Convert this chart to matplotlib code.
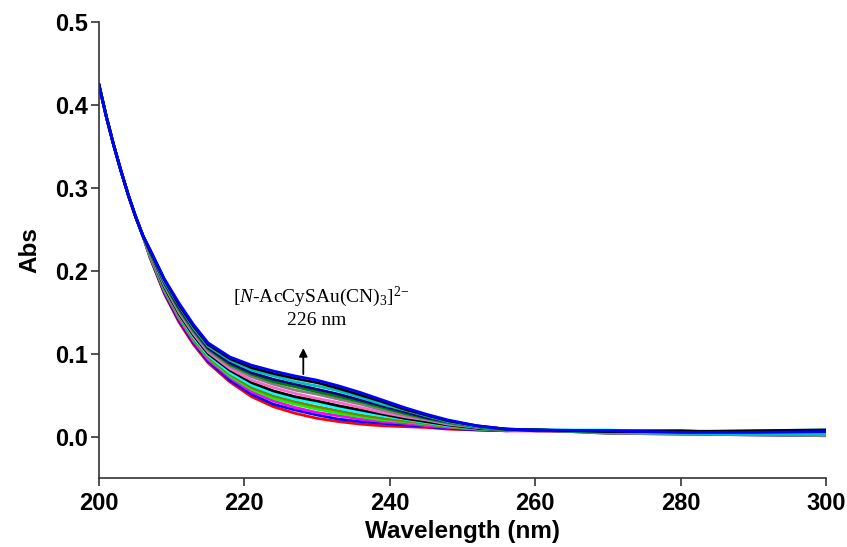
import matplotlib
matplotlib.use("Agg")
import matplotlib.pyplot as plt
import numpy as np

plt.rcParams["font.family"] = ["Liberation Sans", "DejaVu Sans"]
plt.rcParams["mathtext.fontset"] = "custom"
plt.rcParams["mathtext.rm"] = "Liberation Serif"
plt.rcParams["mathtext.it"] = "Liberation Serif:italic"

# shared start of every spectrum (all curves overlap here)
wl_head = [200, 201, 202, 203, 204, 205, 206]
abs_head = [0.424, 0.386, 0.352, 0.321, 0.292, 0.266, 0.243]

# per-spectrum part, 207..300 nm
wl_body = [207, 209, 211, 213, 215, 218, 221, 224, 227, 230, 233, 236,
           239, 242, 245, 248, 252, 256, 260, 270, 280, 290, 300]

s01 = [.216, .172, .138, .111, .089, .066, .048, .036, .028, .022, .018, .015, .013, .012, .011, .009, .008, .007, .007, .006, .005, .004, .005]
s02 = [.217, .173, .140, .113, .091, .068, .051, .039, .032, .026, .021, .018, .016, .014, .012, .010, .008, .007, .008, .004, .003, .002, .001]
s03 = [.218, .175, .142, .115, .093, .071, .054, .043, .035, .029, .025, .021, .018, .016, .013, .011, .009, .007, .007, .007, .006, .006, .007]
s04 = [.218, .176, .144, .117, .095, .073, .057, .046, .039, .033, .028, .024, .020, .018, .015, .012, .009, .008, .008, .005, .004, .003, .003]
s05 = [.219, .177, .145, .118, .096, .075, .059, .049, .042, .036, .031, .026, .022, .019, .016, .012, .010, .008, .007, .006, .007, .005, .006]
s06 = [.220, .179, .147, .120, .098, .077, .062, .052, .045, .040, .034, .029, .025, .021, .017, .013, .010, .008, .008, .008, .005, .007, .008]
s07 = [.221, .180, .148, .122, .100, .080, .065, .055, .048, .043, .037, .032, .027, .022, .018, .014, .010, .008, .008, .005, .004, .003, .002]
s08 = [.221, .182, .150, .124, .102, .082, .068, .059, .052, .046, .041, .035, .029, .024, .020, .015, .011, .008, .007, .007, .006, .005, .004]
s09 = [.222, .183, .152, .126, .104, .085, .072, .063, .056, .051, .045, .039, .032, .026, .021, .016, .011, .008, .008, .004, .003, .002, .001]
s10 = [.223, .185, .154, .128, .106, .087, .075, .066, .060, .054, .048, .042, .035, .028, .022, .017, .012, .008, .008, .006, .005, .006, .007]
s11 = [.224, .186, .156, .130, .107, .089, .077, .069, .063, .057, .051, .044, .037, .030, .023, .018, .012, .009, .007, .007, .007, .004, .005]
s12 = [.225, .187, .158, .131, .109, .092, .080, .073, .066, .061, .055, .047, .039, .032, .025, .018, .012, .009, .008, .005, .004, .003, .003]
s13 = [.225, .189, .159, .133, .111, .094, .083, .076, .070, .065, .058, .050, .042, .033, .026, .019, .013, .009, .008, .006, .006, .007, .008]
s14 = [.226, .190, .161, .135, .113, .096, .086, .079, .073, .068, .061, .053, .044, .035, .027, .020, .013, .009, .008, .007, .005, .005, .006]

spectra = [s01, s02, s03, s04, s05, s06, s07, s08, s09, s10, s11, s12, s13, s14]
colors = ["#ff0000", "#0000ff", "#ff00ff", "#00ff00", "#808000", "#00ffff",
          "#000000", "#ff66cc", "#808080", "#008000", "#000080", "#00c0c0",
          "#000000", "#0000ff"]

fig = plt.figure(figsize=(8.47, 5.47), dpi=100)
ax = fig.add_axes([0.1169, 0.1261, 0.8583, 0.8337])

wl = wl_head + wl_body
for s, c in zip(spectra, colors):
    ax.plot(wl, abs_head + s, color=c, lw=2.0)

ax.set_xlim(200, 300)
ax.set_ylim(-0.05, 0.5)
ax.set_xticks([200, 220, 240, 260, 280, 300])
ax.set_yticks([0.0, 0.1, 0.2, 0.3, 0.4, 0.5])
ax.set_yticklabels(["0.0", "0.1", "0.2", "0.3", "0.4", "0.5"])

for side in ["top", "right"]:
    ax.spines[side].set_visible(False)
for side in ["left", "bottom"]:
    ax.spines[side].set_color("#333333")
    ax.spines[side].set_linewidth(1.2)

ax.tick_params(direction="out", length=6, width=1.2, color="#333333",
               labelsize=17)
ax.tick_params(axis="y", pad=2)
ax.tick_params(axis="x", pad=4)
for lab in ax.get_xticklabels() + ax.get_yticklabels():
    lab.set_fontweight("bold")

ax.set_xlabel("Wavelength (nm)", fontsize=17.5, fontweight="bold", labelpad=4)
ax.set_ylabel("Abs", fontsize=17.5, fontweight="bold", labelpad=10)

ax.annotate("", xy=(228.1, 0.110), xytext=(228.1, 0.072),
            arrowprops=dict(arrowstyle="-|>", color="black", lw=1.3,
                            mutation_scale=12))
ax.text(230.5, 0.169, r"[$\it{N}$-AcCySAu(CN)$_3$]$^{2{-}}$", ha="center",
        va="center", fontsize=14, family="Liberation Serif")
ax.text(230.0, 0.140, "226 nm", ha="center", va="center", fontsize=14,
        family="Liberation Serif")

fig.savefig("out.png", dpi=100)
